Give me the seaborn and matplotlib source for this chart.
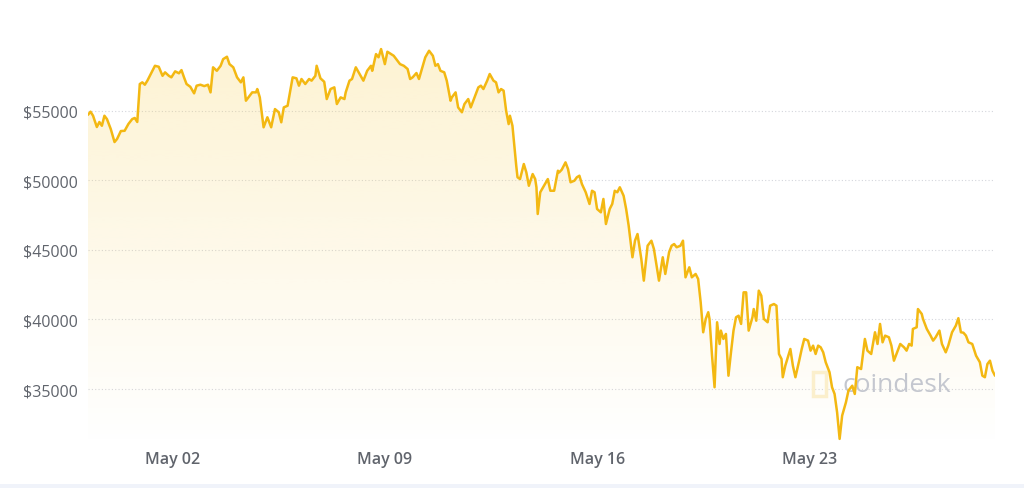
import numpy as np
import pandas as pd
import matplotlib
matplotlib.use("Agg")
import matplotlib.pyplot as plt
import matplotlib.dates as mdates
from matplotlib.colors import to_rgb
from matplotlib.patches import Rectangle
import seaborn as sns

# hours after 2021-04-29 00:00 and BTC price (USD)
hours = [5, 7, 9, 12, 14, 16, 18, 20, 23, 26, 28, 31, 34, 37, 40, 42, 44, 46, 48, 50,
         52, 56, 58, 61, 64, 66, 69, 71, 74, 77, 79, 81, 83, 86, 89, 91, 94, 97, 100, 102,
         104, 107, 110, 112, 115, 117, 120, 123, 126,
         128, 130, 132, 135, 138, 139, 141, 144, 147, 150, 153, 156, 158, 160, 163, 167, 170, 172, 174, 177,
         180, 182, 185, 186, 189, 192, 194, 197, 200, 202, 205, 208, 209, 212, 214, 217, 219, 223, 226, 229,
         230, 233, 235, 237, 240, 242, 245, 247, 250,
         252, 255, 258, 260, 262, 265, 267, 270, 272, 275, 278, 280, 282, 284, 287, 289, 292, 293, 296, 298,
         301, 303, 306, 308, 311, 314, 316, 318, 321, 323, 326, 328, 330, 332, 334, 336, 338, 339, 341, 344,
         345, 347, 350, 352, 354, 357, 359, 360, 361, 363, 366, 369, 371,
         374, 377, 378, 380, 383, 385, 387, 390, 392, 394, 396, 399, 402, 404, 406, 408, 411, 413, 415, 418,
         420, 422, 424, 426, 429, 431, 433, 436, 438, 440, 443, 445, 448, 451, 453, 457, 460, 462, 465, 467,
         469, 471, 474, 476, 478, 481, 483, 486, 488, 490, 492, 494, 496,
         497, 499, 501, 503, 505, 506, 508, 510, 512, 514, 516, 518, 520, 522, 524, 526, 528, 531, 532, 534,
         536, 538, 540, 543, 545, 548, 550, 552, 554, 555, 557, 559, 561, 563, 565, 568, 570, 572, 575, 577,
         579, 581, 583, 585, 587, 589, 592, 594, 596, 598, 600, 602, 605, 607,
         610, 612, 614, 617, 620, 622, 625, 628, 630, 632, 634, 636, 639, 641, 643, 646, 648, 651, 653, 655,
         657, 658, 661, 662, 665, 666, 669, 672, 674, 676, 679, 681, 684, 686, 689, 692, 694, 696, 698, 700,
         702, 705, 708, 711, 713, 715, 717, 719, 721, 723]

price = [54710, 54930, 54640, 53830, 54190, 53920, 54640, 54400, 53690, 52750,
         52970, 53540, 53560, 54050, 54400, 54480, 54190, 56920, 57040, 56870,
         57160, 57870, 58230, 58160, 57510, 57760, 57510, 57400, 57830, 57690,
         57920, 57400, 56920, 56720, 56250, 56800, 56870, 56770, 56870, 56320,
         58120, 57870, 58230, 58710, 58880, 58350, 58120, 57400, 57040,
         57400, 55720, 55960, 56320, 56320, 56560, 55960, 53810, 54530, 53810,
         55120, 54890, 54170, 55240, 55360, 57400, 57330, 56800, 57280, 56920,
         57280, 57160, 57510, 58230, 57330, 57080, 55840, 56560, 56680, 55480,
         55960, 55840, 56320, 57160, 57280, 58120, 57800, 57160, 57870, 58230,
         57870, 59070, 58840, 59430, 58350, 59240, 59070, 58950, 58590,
         58350, 58230, 58000, 57280, 57400, 57710, 57280, 58230, 58840, 59310,
         58950, 58230, 58350, 57870, 57760, 57160, 55720, 55960, 56320, 55240,
         54890, 55480, 55840, 55240, 55960, 56680, 56800, 56560, 57160, 57640,
         57160, 57040, 56320, 56560, 56440, 55000, 54040, 54640, 53920, 51050,
         50220, 50090, 51170, 50570, 49610, 50450, 50090, 49500, 47580, 49140,
         49610, 50090, 49250,
         49250, 50690, 50570, 50760, 51290, 50810, 49860, 49970, 50220, 50330,
         49730, 49140, 48300, 49250, 49140, 47940, 47700, 48660, 46860, 47940,
         48300, 49250, 49140, 49500, 48890, 47940, 46740, 44470, 45660, 46140,
         44350, 42790, 45300, 45660, 45060, 42790, 44470, 43270, 44830, 45300,
         45420, 45190, 45300, 45660, 43030, 43750, 43030, 43270, 42910, 41240,
         39080, 40040, 40520,
         40040, 37400, 35130, 39800, 38240, 39200, 38600, 38960, 35960, 37640,
         39200, 40160, 40270, 39680, 41950, 41950, 39200, 40160, 40750, 39910,
         42070, 41710, 40040, 39800, 40990, 41110, 40990, 37520, 37160, 35850,
         36680, 37280, 37880, 36680, 35850, 37040, 37880, 38600, 38480, 37760,
         38120, 37520, 38120, 38000, 37640, 36920, 36210, 35130, 34650, 33330,
         31420, 33090, 34050, 34890,
         35240, 34650, 36570, 36440, 38600, 37760, 37520, 39080, 38240, 39680,
         38360, 38840, 38720, 38120, 37040, 37760, 38240, 38000, 37760, 38240,
         38120, 39320, 39440, 40750, 40400, 40040, 39320, 38840, 38480, 38720,
         39200, 38240, 37640, 38120, 39080, 39560, 40090, 39080, 39050, 38840,
         38360, 38240, 37400, 36930, 35960, 35850, 36800, 37040, 36320, 35960]

y_ticks = [35000, 40000, 45000, 50000, 55000]
x_ticks = ["2021-05-02", "2021-05-09", "2021-05-16", "2021-05-23"]

df = pd.DataFrame({
    "time": pd.Timestamp("2021-04-29") + pd.to_timedelta(hours, unit="h"),
    "price": price,
})

sns.set_theme(style="white")
plt.rcParams['font.family'] = ['Open Sans', 'DejaVu Sans']

line_col = "#f3b812"
text_col = "#60646c"

fig = plt.figure(figsize=(10.24, 4.89), dpi=100)
ax = fig.add_axes([88 / 1024, 43 / 489, 907 / 1024, 425 / 489])

sns.lineplot(data=df, x="time", y="price", ax=ax, color=line_col, linewidth=1.8, zorder=4)

# yellow->white gradient under the line
y0, y1 = 30980, 61520
xn = mdates.date2num(df["time"])
poly = ax.fill_between(df["time"], df["price"], y0, color="none", lw=0)
grad = np.zeros((256, 1, 4))
grad[..., :3] = to_rgb("#f9d66b")
grad[:, 0, 3] = np.linspace(0.0, 0.3, 256)
img = ax.imshow(grad, extent=[xn[0], xn[-1], y0, max(price)], origin="lower",
                aspect="auto", zorder=2, interpolation="bilinear")
img.set_clip_path(poly.get_paths()[0], transform=ax.transData)

ax.set_xlim(xn[0], xn[-1])
ax.set_ylim(y0, y1)

ax.set_yticks(y_ticks)
ax.set_yticklabels([f"${v}" for v in y_ticks])
ax.set_xticks(mdates.date2num(pd.to_datetime(x_ticks)))
ax.set_xticklabels([pd.Timestamp(t).strftime("%b %d") for t in x_ticks])
ax.tick_params(axis="y", length=0, pad=7, labelsize=11.5, labelcolor=text_col)
ax.tick_params(axis="x", length=0, pad=4, labelsize=11.5, labelcolor=text_col)
for lab in ax.get_xticklabels():
    lab.set_fontweight("semibold")

ax.yaxis.grid(True, linestyle=(0, (1, 2)), color="#d4d6dc", linewidth=0.8)
ax.xaxis.grid(False)
ax.set_axisbelow(True)
for s in ax.spines.values():
    s.set_visible(False)
ax.set_xlabel("")
ax.set_ylabel("")

# watermark
ax.text(842 / 1024, 1 - 386 / 489, "coindesk", transform=fig.transFigure,
        fontsize=19, color="#c4c7cf", va="center", ha="left", zorder=3)
ax.add_patch(Rectangle((813 / 1024, 1 - 397 / 489), 13 / 1024, 24 / 489,
                       transform=fig.transFigure, fill=False, edgecolor="#fbefcc",
                       linewidth=2.5, zorder=3, clip_on=False))

# light strip at the bottom
fig.patches.append(Rectangle((0, 0), 1, 4 / 489, transform=fig.transFigure,
                             facecolor="#f0f3fa", edgecolor="none"))

fig.savefig("out.png", dpi=100)
